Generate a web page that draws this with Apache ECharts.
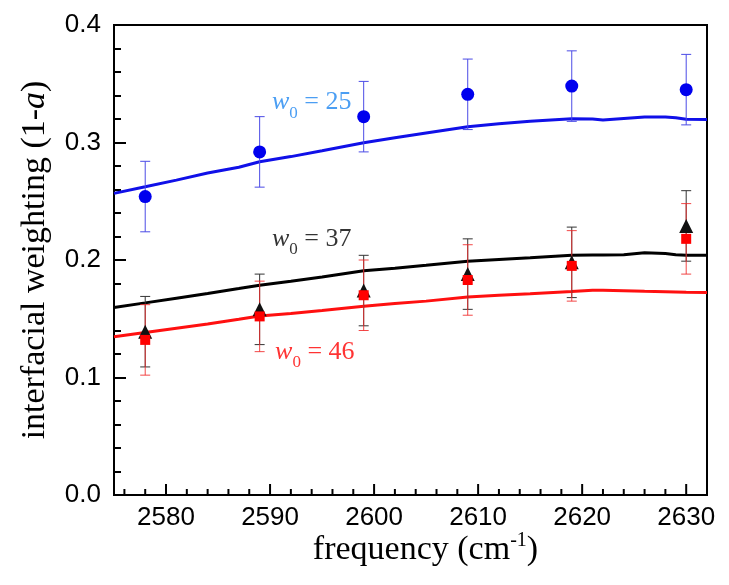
<!DOCTYPE html>
<html>
<head>
<meta charset="utf-8">
<script src="https://cdn.jsdelivr.net/npm/echarts@6/dist/echarts.min.js"></script>
<style>html,body{margin:0;padding:0;background:#fff}#c{width:729px;height:585px}</style>
</head>
<body>
<div id="c"></div>
<script>
// Measured points
var freq = [2578, 2589, 2599, 2609, 2619, 2630];
var w25 = [0.254, 0.292, 0.322, 0.341, 0.348, 0.345];
var w25Err = [0.030, 0.030, 0.030, 0.030, 0.030, 0.030];
var w37 = [0.139, 0.158, 0.174, 0.188, 0.198, 0.229];
var w37Err = [0.030, 0.030, 0.030, 0.030, 0.030, 0.030];
var w46 = [0.132, 0.152, 0.170, 0.183, 0.195, 0.218];
var w46Err = [0.030, 0.030, 0.030, 0.030, 0.030, 0.030];

// Model curves
var fitFreq = [2575, 2578, 2581, 2584, 2587, 2589, 2592, 2595, 2599, 2602, 2605, 2609, 2612, 2615, 2619, 2621, 2622, 2624, 2626, 2628, 2629, 2630, 2632];
var fit25 = [0.2567, 0.2623, 0.268, 0.274, 0.279, 0.2836, 0.288, 0.293, 0.2998, 0.304, 0.308, 0.3134, 0.316, 0.318, 0.3202, 0.3200, 0.3191, 0.3205, 0.3216, 0.3216, 0.3210, 0.3197, 0.3195];
var fit37 = [0.1596, 0.1635, 0.1675, 0.1715, 0.1757, 0.1786, 0.1820, 0.1855, 0.1908, 0.1930, 0.1955, 0.1990, 0.2005, 0.2020, 0.2041, 0.2042, 0.2042, 0.2045, 0.2061, 0.2055, 0.2045, 0.2041, 0.2041];
var fit46 = [0.1346, 0.1383, 0.1420, 0.1455, 0.1495, 0.1524, 0.1545, 0.1570, 0.1607, 0.1630, 0.1650, 0.1686, 0.1700, 0.1712, 0.1732, 0.1743, 0.1742, 0.1738, 0.1733, 0.1730, 0.1728, 0.1726, 0.1724];

// Axis ticks / labels
var majorTicksX = [2580, 2590, 2600, 2610, 2620, 2630];
var minorTicksX = [2576, 2578, 2582, 2584, 2586, 2588, 2592, 2594, 2596, 2598, 2602, 2604, 2606, 2608, 2612, 2614, 2616, 2618, 2622, 2624, 2626, 2628];
var curveLabels = [
  {x: 2594, y: 0.334, num: '25', color: '#1E86F0'},
  {x: 2594, y: 0.2175, num: '37', color: '#000000'},
  {x: 2594.3, y: 0.1215, num: '46', color: '#FF0000'}
];

function zip(xs, ys) { return xs.map(function (x, i) { return [x, ys[i]]; }); }
function errData(xs, ys, es) { return xs.map(function (x, i) { return [x, ys[i] - es[i], ys[i] + es[i]]; }); }
function errSeries(data, color, z) {
  return {
    type: 'custom', z: z, data: data, silent: true,
    renderItem: function (params, api) {
      var lo = api.coord([api.value(0), api.value(1)]);
      var hi = api.coord([api.value(0), api.value(2)]);
      var hw = 5;
      var st = {stroke: color, lineWidth: 1};
      return {type: 'group', children: [
        {type: 'line', shape: {x1: lo[0], y1: lo[1], x2: hi[0], y2: hi[1]}, style: st},
        {type: 'line', shape: {x1: lo[0] - hw, y1: lo[1], x2: lo[0] + hw, y2: lo[1]}, style: st},
        {type: 'line', shape: {x1: hi[0] - hw, y1: hi[1], x2: hi[0] + hw, y2: hi[1]}, style: st}
      ]};
    }
  };
}
function tickSeries(data, len) {
  return {
    type: 'custom', z: 3, silent: true, data: data,
    renderItem: function (params, api) {
      var p = api.coord([api.value(0), 0]);
      return {type: 'line', shape: {x1: p[0], y1: p[1], x2: p[0], y2: p[1] - len}, style: {stroke: '#000', lineWidth: 2}};
    }
  };
}

var serif = 'Liberation Serif, Times New Roman, serif';
var sans = 'Liberation Sans, Arial, sans-serif';

var chart = echarts.init(document.getElementById('c'));
chart.setOption({
  animation: false,
  backgroundColor: '#fff',
  grid: {left: 114, right: 22, top: 25, bottom: 90, show: true, borderColor: '#000', borderWidth: 2, backgroundColor: 'transparent'},
  xAxis: {
    type: 'value', min: 2575, max: 2632,
    axisLine: {show: true, onZero: false, lineStyle: {color: '#000', width: 2}},
    axisTick: {show: false},
    splitLine: {show: false},
    axisLabel: {showMinLabel: false, showMaxLabel: false, color: '#000', fontFamily: sans, fontSize: 26, margin: 10,
      formatter: function (v) { return String(v); }},
    name: '{a|frequency (cm}{s|-1}{a|)}',
    nameLocation: 'middle', nameGap: 36, nameMoveOverlap: false,
    nameTextStyle: {
      padding: [0, 0, 0, 30],
      rich: {
        a: {fontFamily: serif, fontSize: 34, color: '#000', lineHeight: 38},
        s: {fontFamily: serif, fontSize: 20, color: '#000', lineHeight: 20, verticalAlign: 'top'}
      }
    }
  },
  yAxis: {
    type: 'value', min: 0, max: 0.4, interval: 0.1,
    axisLine: {show: true, lineStyle: {color: '#000', width: 2}},
    axisTick: {show: true, inside: true, length: 12, lineStyle: {color: '#000', width: 2}},
    minorTick: {show: true, splitNumber: 5, length: 7, lineStyle: {color: '#000', width: 2}},
    splitLine: {show: false},
    axisLabel: {color: '#000', fontFamily: sans, fontSize: 26, margin: 13, formatter: function (v) { return v.toFixed(1); }},
    name: '{a|interfacial weighting (1-}{i|a}{a|)}',
    nameLocation: 'middle', nameGap: 62, nameRotate: 90, nameMoveOverlap: false,
    nameTextStyle: {
      rich: {
        a: {fontFamily: serif, fontSize: 34, color: '#000'},
        i: {fontFamily: serif, fontSize: 34, color: '#000', fontStyle: 'italic'}
      }
    }
  },
  series: [
    tickSeries(majorTicksX, 11),
    tickSeries(minorTicksX, 6),
    {type: 'line', data: zip(fitFreq, fit25), showSymbol: false, symbol: 'none', lineStyle: {color: '#1010E8', width: 3}, z: 4},
    {type: 'line', data: zip(fitFreq, fit37), showSymbol: false, symbol: 'none', lineStyle: {color: '#000000', width: 3}, z: 4},
    {type: 'line', data: zip(fitFreq, fit46), showSymbol: false, symbol: 'none', lineStyle: {color: '#FF1010', width: 3}, z: 4},
    errSeries(errData(freq, w25, w25Err), '#4B4BE6', 5),
    errSeries(errData(freq, w37, w37Err), '#333333', 5),
    errSeries(errData(freq, w46, w46Err), 'rgba(240,40,40,0.85)', 5),
    {type: 'scatter', data: zip(freq, w25), symbol: 'circle', symbolSize: 13, itemStyle: {color: '#0000EE', opacity: 1}, z: 6},
    {type: 'scatter', data: zip(freq, w37), symbol: 'triangle', symbolSize: [14, 14], itemStyle: {color: '#111111', opacity: 1}, z: 6},
    {type: 'scatter', data: zip(freq, w46), symbol: 'rect', symbolSize: 10, itemStyle: {color: '#FF0000', opacity: 1}, z: 7},
    {
      type: 'scatter', symbolSize: 0, z: 8, silent: true,
      data: curveLabels.map(function (c) {
        return {value: [c.x, c.y], num: c.num, label: {
          rich: {
            w: {fontFamily: serif, fontSize: 26, fontStyle: 'italic', color: c.color, lineHeight: 26},
            s: {fontFamily: serif, fontSize: 17, color: c.color, lineHeight: 16, verticalAlign: 'bottom', padding: [0, 0, -6, 0]},
            t: {fontFamily: serif, fontSize: 26, color: c.color, lineHeight: 26}
          }
        }};
      }),
      label: {
        show: true, position: 'inside',
        formatter: function (p) { return '{w|w}{s|0}{t| = ' + p.data.num + '}'; }
      }
    }
  ]
});
</script>
</body>
</html>
